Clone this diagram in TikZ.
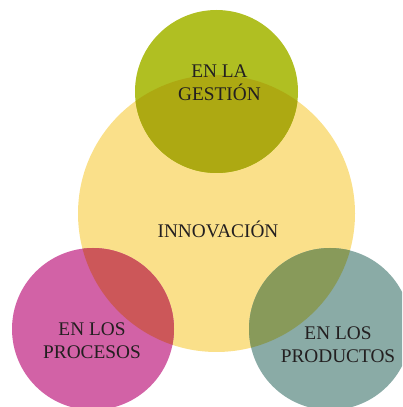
\documentclass[tikz,border=0pt]{standalone}
\usepackage{fontspec}
\setmainfont{Liberation Serif}
\definecolor{cyel}{RGB}{250,224,138}
\definecolor{cgreen}{RGB}{176,191,34}
\definecolor{cgreenov}{RGB}{173,169,18}
\definecolor{cpink}{RGB}{210,98,166}
\definecolor{cpinkov}{RGB}{204,87,89}
\definecolor{cteal}{RGB}{138,171,166}
\definecolor{ctealov}{RGB}{136,154,90}
\definecolor{ctext}{RGB}{35,31,32}
\tikzset{lbl/.style={text=ctext,font=\fontsize{19.3}{22.8}\selectfont,align=center,inner sep=0pt}}
\begin{document}
\begin{tikzpicture}[x=1pt,y=1pt]
\useasboundingbox (0,0) rectangle (402,407);
\clip (0,0) rectangle (402,407);
\coordinate (cb) at (216.5,193.5);
\coordinate (ct) at (216.5,315.5);
\coordinate (cl) at (93,78);
\coordinate (cr) at (330,78);
\fill[cyel] (cb) circle (138.5);
\fill[cgreen] (ct) circle (81.5);
\fill[cpink] (cl) circle (81);
\fill[cteal] (cr) circle (81);
\begin{scope}
\clip (cb) circle (138.5);
\fill[cgreenov] (ct) circle (81.5);
\fill[cpinkov] (cl) circle (81);
\fill[ctealov] (cr) circle (81);
\end{scope}
\node[lbl] (inn) at (218,178) {INNOVACIÓN};
\node[lbl] (ges) at (219.5,324) {EN LA\\GESTIÓN};
\node[lbl] (pro) at (92,66) {EN LOS\\PROCESOS};
\node[lbl] (prd) at (338,62) {EN LOS\\PRODUCTOS};
\end{tikzpicture}
\end{document}
